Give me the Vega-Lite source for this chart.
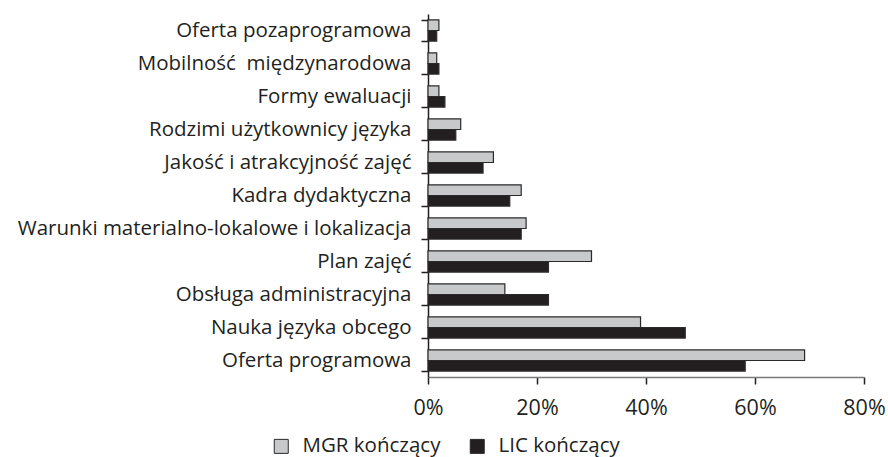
{
  "$schema": "https://vega.github.io/schema/vega-lite/v6.json",
  "width": 436,
  "height": 363,
  "autosize": {"type": "none"},
  "padding": {"left": 428, "top": 14, "right": 24, "bottom": 80},
  "background": "white",
  "config": {
    "view": {"stroke": null},
    "font": "Open Sans",
    "axis": {"grid": false, "labelFont": "Open Sans", "labelColor": "#231f20"},
    "legend": {"labelFont": "Open Sans", "labelColor": "#231f20"}
  },
  "data": {
    "values": [
      {"kategoria": "Oferta pozaprogramowa", "grupa": "MGR kończący", "wartosc": 0.020},
      {"kategoria": "Oferta pozaprogramowa", "grupa": "LIC kończący", "wartosc": 0.016},
      {"kategoria": "Mobilność\u00a0 międzynarodowa", "grupa": "MGR kończący", "wartosc": 0.016},
      {"kategoria": "Mobilność\u00a0 międzynarodowa", "grupa": "LIC kończący", "wartosc": 0.020},
      {"kategoria": "Formy ewaluacji", "grupa": "MGR kończący", "wartosc": 0.020},
      {"kategoria": "Formy ewaluacji", "grupa": "LIC kończący", "wartosc": 0.031},
      {"kategoria": "Rodzimi użytkownicy języka", "grupa": "MGR kończący", "wartosc": 0.060},
      {"kategoria": "Rodzimi użytkownicy języka", "grupa": "LIC kończący", "wartosc": 0.051},
      {"kategoria": "Jakość i atrakcyjność zajęć", "grupa": "MGR kończący", "wartosc": 0.120},
      {"kategoria": "Jakość i atrakcyjność zajęć", "grupa": "LIC kończący", "wartosc": 0.101},
      {"kategoria": "Kadra dydaktyczna", "grupa": "MGR kończący", "wartosc": 0.171},
      {"kategoria": "Kadra dydaktyczna", "grupa": "LIC kończący", "wartosc": 0.150},
      {"kategoria": "Warunki materialno-lokalowe i lokalizacja", "grupa": "MGR kończący", "wartosc": 0.180},
      {"kategoria": "Warunki materialno-lokalowe i lokalizacja", "grupa": "LIC kończący", "wartosc": 0.171},
      {"kategoria": "Plan zajęć", "grupa": "MGR kończący", "wartosc": 0.300},
      {"kategoria": "Plan zajęć", "grupa": "LIC kończący", "wartosc": 0.221},
      {"kategoria": "Obsługa administracyjna", "grupa": "MGR kończący", "wartosc": 0.141},
      {"kategoria": "Obsługa administracyjna", "grupa": "LIC kończący", "wartosc": 0.221},
      {"kategoria": "Nauka języka obcego", "grupa": "MGR kończący", "wartosc": 0.390},
      {"kategoria": "Nauka języka obcego", "grupa": "LIC kończący", "wartosc": 0.472},
      {"kategoria": "Oferta programowa", "grupa": "MGR kończący", "wartosc": 0.691},
      {"kategoria": "Oferta programowa", "grupa": "LIC kończący", "wartosc": 0.582}
    ]
  },
  "mark": {"type": "bar", "stroke": "#2a2a2a", "strokeWidth": 1.2},
  "encoding": {
    "y": {
      "field": "kategoria",
      "type": "nominal",
      "sort": null,
      "scale": {"paddingInner": 0.36, "paddingOuter": 0.18},
      "axis": {
        "title": null,
        "labelFontSize": 20.5,
        "labelPadding": 10,
        "tickBand": "extent",
        "tickSize": 7,
        "tickColor": "#231f20",
        "tickWidth": 1.5,
        "domainColor": "#231f20",
        "domainWidth": 1.5,
        "labelLimit": 500
      }
    },
    "yOffset": {
      "field": "grupa",
      "type": "nominal",
      "sort": ["MGR kończący", "LIC kończący"]
    },
    "x": {
      "field": "wartosc",
      "type": "quantitative",
      "scale": {"domain": [0, 0.8], "nice": false},
      "axis": {
        "title": null,
        "format": ".0%",
        "values": [0, 0.2, 0.4, 0.6, 0.8],
        "labelFontSize": 21.5,
        "labelPadding": 13,
        "tickSize": 7,
        "tickColor": "#231f20",
        "tickWidth": 1.5,
        "domainColor": "#7a7a7a",
        "domainWidth": 1.5,
        "labelFlush": false
      }
    },
    "fill": {
      "field": "grupa",
      "type": "nominal",
      "sort": ["MGR kończący", "LIC kończący"],
      "scale": {"domain": ["MGR kończący", "LIC kończący"], "range": ["#c8c9ca", "#231f20"]},
      "legend": {
        "title": null,
        "orient": "none",
        "direction": "horizontal",
        "legendX": -157,
        "legendY": 422,
        "symbolType": "square",
        "symbolSize": 196,
        "symbolStrokeColor": "#2a2a2a",
        "symbolStrokeWidth": 1,
        "labelFontSize": 20.5,
        "labelOffset": 11,
        "labelLimit": 300,
        "columnPadding": 26
      }
    }
  }
}
